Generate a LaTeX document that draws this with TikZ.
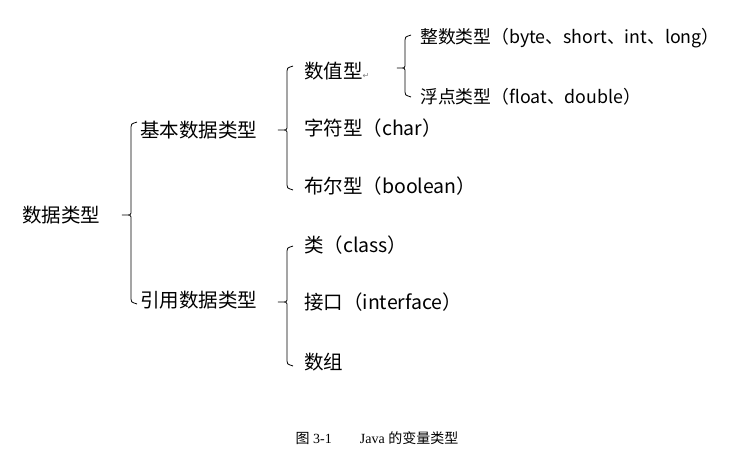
\documentclass[tikz,border=0pt]{standalone}
\usepackage{fontspec}
\setmainfont{Liberation Serif}
\newfontfamily\cjk{Noto Sans CJK SC}
\newfontfamily\sym{DejaVu Sans}
\tikzset{
  lbl/.style={anchor=west,inner sep=0pt,font=\cjk\fontsize{19.5}{22}\selectfont},
  brc/.style={line width=0.8pt,rounded corners=3pt}
}
% brace: x of tip, x of stem, top y, tip y, bottom y
\newcommand{\opbrace}[5]{%
  \draw[brc] ($(#2,#3)+(6,-2)$) .. controls (#2,#3) .. ($(#2,#3)+(0,6)$) -- ($(#2,#4)+(0,-5)$)
    .. controls (#2,#4) .. (#1,#4) .. controls (#2,#4) .. ($(#2,#4)+(0,5)$) -- ($(#2,#5)+(0,-6)$)
    .. controls (#2,#5) .. ($(#2,#5)+(6,2)$);}
\usetikzlibrary{calc}
\begin{document}
\begin{tikzpicture}[x=1pt,y=-1pt]
  \useasboundingbox (0,0) rectangle (735,461);
  % text
  \node[lbl] (root) at (22,215) {数据类型};
  \node[lbl] (basic) at (140,130) {基本数据类型};
  \node[lbl] (ref) at (140,300) {引用数据类型};
  \node[lbl] (num) at (304,71) {数值型\textcolor{gray}{\sym\fontsize{8}{9}\selectfont ↵}};
  \node[lbl] (chr) at (304,128) {字符型（char）};
  \node[lbl] (bool) at (304,186) {布尔型（boolean）};
  \node[lbl,font=\cjk\fontsize{17.8}{20}\selectfont] (int) at (420,38) {整数类型（byte、short、int、long）};
  \node[lbl,font=\cjk\fontsize{17.8}{20}\selectfont] (flt) at (420,97) {浮点类型（float、double）};
  \node[lbl] (cls) at (304,245) {类（class）};
  \node[lbl] (ifc) at (304,302) {接口（interface）};
  \node[lbl] (arr) at (304,362) {数组};
  % braces
  \opbrace{120}{131}{124}{215}{302}
  \opbrace{276}{287}{68}{130}{188}
  \opbrace{395}{405}{37}{68}{95}
  \opbrace{276}{287}{248}{302}{364}
  % caption
  \node[inner sep=0pt,font=\fontsize{14}{16}\selectfont] (cap) at (377,438)
    {{\cjk 图} 3-1\hspace{28pt}Java {\cjk 的变量类型}};
\end{tikzpicture}
\end{document}
